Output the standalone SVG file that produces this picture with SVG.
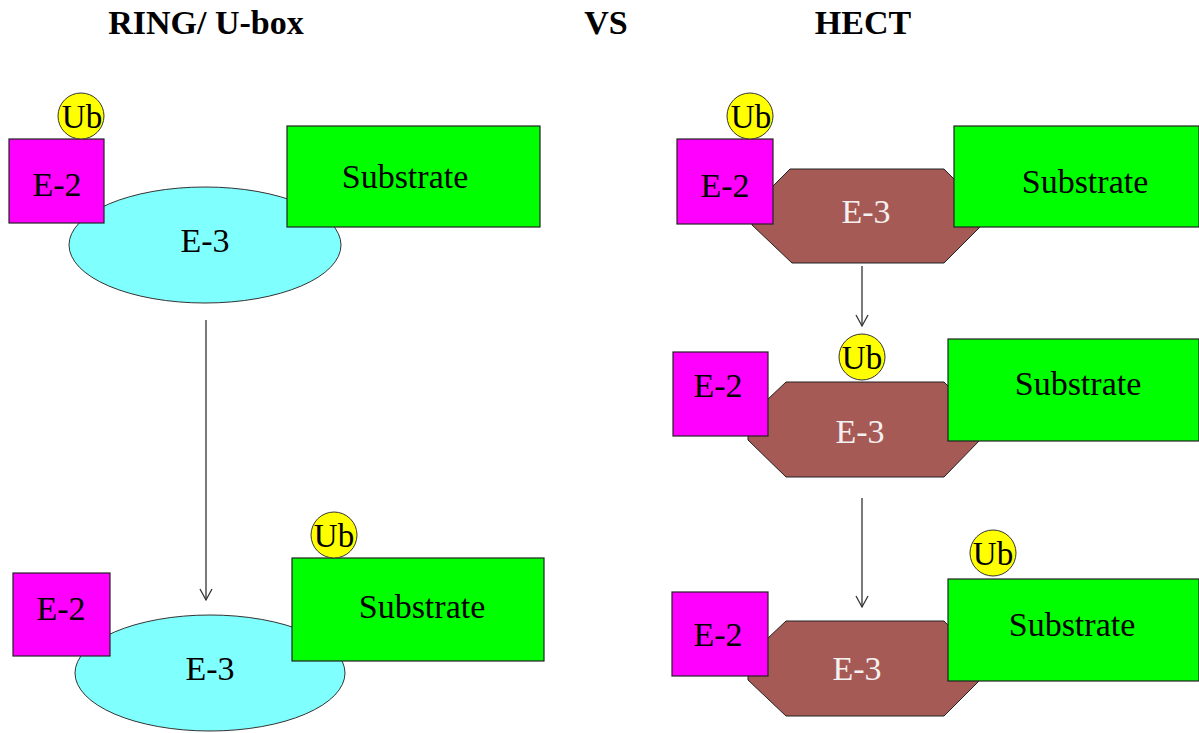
<svg xmlns="http://www.w3.org/2000/svg" width="1199" height="733" viewBox="0 0 1199 733" font-family="'Liberation Serif', 'Times New Roman', serif">
<defs>
<style>
text{font-family:'Liberation Serif',serif}
.t{font-size:34px;text-anchor:middle;fill:#000}
.title{font-weight:bold}
.e2{fill:#ff00ff;stroke:#222;stroke-width:1.2}
.sub{fill:#00ff00;stroke:#222;stroke-width:1.2}
.ub{fill:#ffff00;stroke:#333;stroke-width:1}
.ell{fill:#80ffff;stroke:#333;stroke-width:1}
.oct{fill:#a65a55;stroke:#222;stroke-width:1}
.w{fill:#f4f0f0}
.ubt{font-size:33px}
.arr{stroke:#333;stroke-width:1.3;fill:none}
</style>
<marker id="ah" markerWidth="14" markerHeight="14" refX="12" refY="7" orient="auto" markerUnits="userSpaceOnUse">
<path d="M1,1 L12,7 L1,13" fill="none" stroke="#333" stroke-width="1.3"/>
</marker>
</defs>
<rect width="1199" height="733" fill="#fff"/>
<g id="titles">
<text class="t title" x="206" y="34">RING/ U-box</text>
<text class="t title" x="606" y="34">VS</text>
<text class="t title" x="863" y="34">HECT</text>
</g>
<g id="connectors">
<line class="arr" x1="206" y1="320" x2="206" y2="600" marker-end="url(#ah)"/>
<line class="arr" x1="862" y1="266" x2="862" y2="326" marker-end="url(#ah)"/>
<line class="arr" x1="862" y1="498" x2="862" y2="607" marker-end="url(#ah)"/>
</g>
<g id="ring-top">
<ellipse class="ell" cx="205" cy="245" rx="136" ry="58"/>
<text class="t" x="205" y="252">E-3</text>
<rect class="e2" x="9" y="139" width="95" height="84"/>
<text class="t" x="57" y="196">E-2</text>
<rect class="sub" x="287" y="126" width="253" height="101"/>
<text class="t" x="405" y="188">Substrate</text>
<circle class="ub" cx="81" cy="116" r="23"/>
<text class="t ubt" x="82" y="128">Ub</text>
</g>
<g id="ring-bottom">
<ellipse class="ell" cx="210" cy="673" rx="135" ry="58"/>
<text class="t" x="210" y="680">E-3</text>
<rect class="e2" x="13" y="573" width="97" height="83"/>
<text class="t" x="61" y="620">E-2</text>
<rect class="sub" x="292" y="558" width="252" height="103"/>
<text class="t" x="422" y="618">Substrate</text>
<circle class="ub" cx="334" cy="535" r="23"/>
<text class="t ubt" x="334" y="547">Ub</text>
</g>
<g id="hect-1">
<polygon class="oct" points="790,169 944,169 982,207 982,225 944,263 792,263 752,225 752,207"/>
<text class="t w" x="866" y="223">E-3</text>
<rect class="e2" x="677" y="139" width="96" height="85"/>
<text class="t" x="725" y="197">E-2</text>
<rect class="sub" x="954" y="126" width="245" height="101"/>
<text class="t" x="1085" y="193">Substrate</text>
<circle class="ub" cx="750" cy="116" r="23"/>
<text class="t ubt" x="751" y="128">Ub</text>
</g>
<g id="hect-2">
<polygon class="oct" points="786,382 944,382 980,418 980,440 944,477 786,477 748,440 748,418"/>
<text class="t w" x="860" y="443">E-3</text>
<rect class="e2" x="673" y="352" width="95" height="84"/>
<text class="t" x="718" y="397">E-2</text>
<rect class="sub" x="948" y="339" width="251" height="102"/>
<text class="t" x="1078" y="395">Substrate</text>
<circle class="ub" cx="862" cy="357" r="23"/>
<text class="t ubt" x="862" y="369">Ub</text>
</g>
<g id="hect-3">
<polygon class="oct" points="786,621 944,621 980,657 980,680 944,716 786,716 748,680 748,657"/>
<text class="t w" x="857" y="680">E-3</text>
<rect class="e2" x="672" y="592" width="96" height="84"/>
<text class="t" x="718" y="646">E-2</text>
<rect class="sub" x="948" y="579" width="251" height="102"/>
<text class="t" x="1072" y="636">Substrate</text>
<circle class="ub" cx="993" cy="553" r="23"/>
<text class="t ubt" x="993" y="565">Ub</text>
</g>
</svg>
